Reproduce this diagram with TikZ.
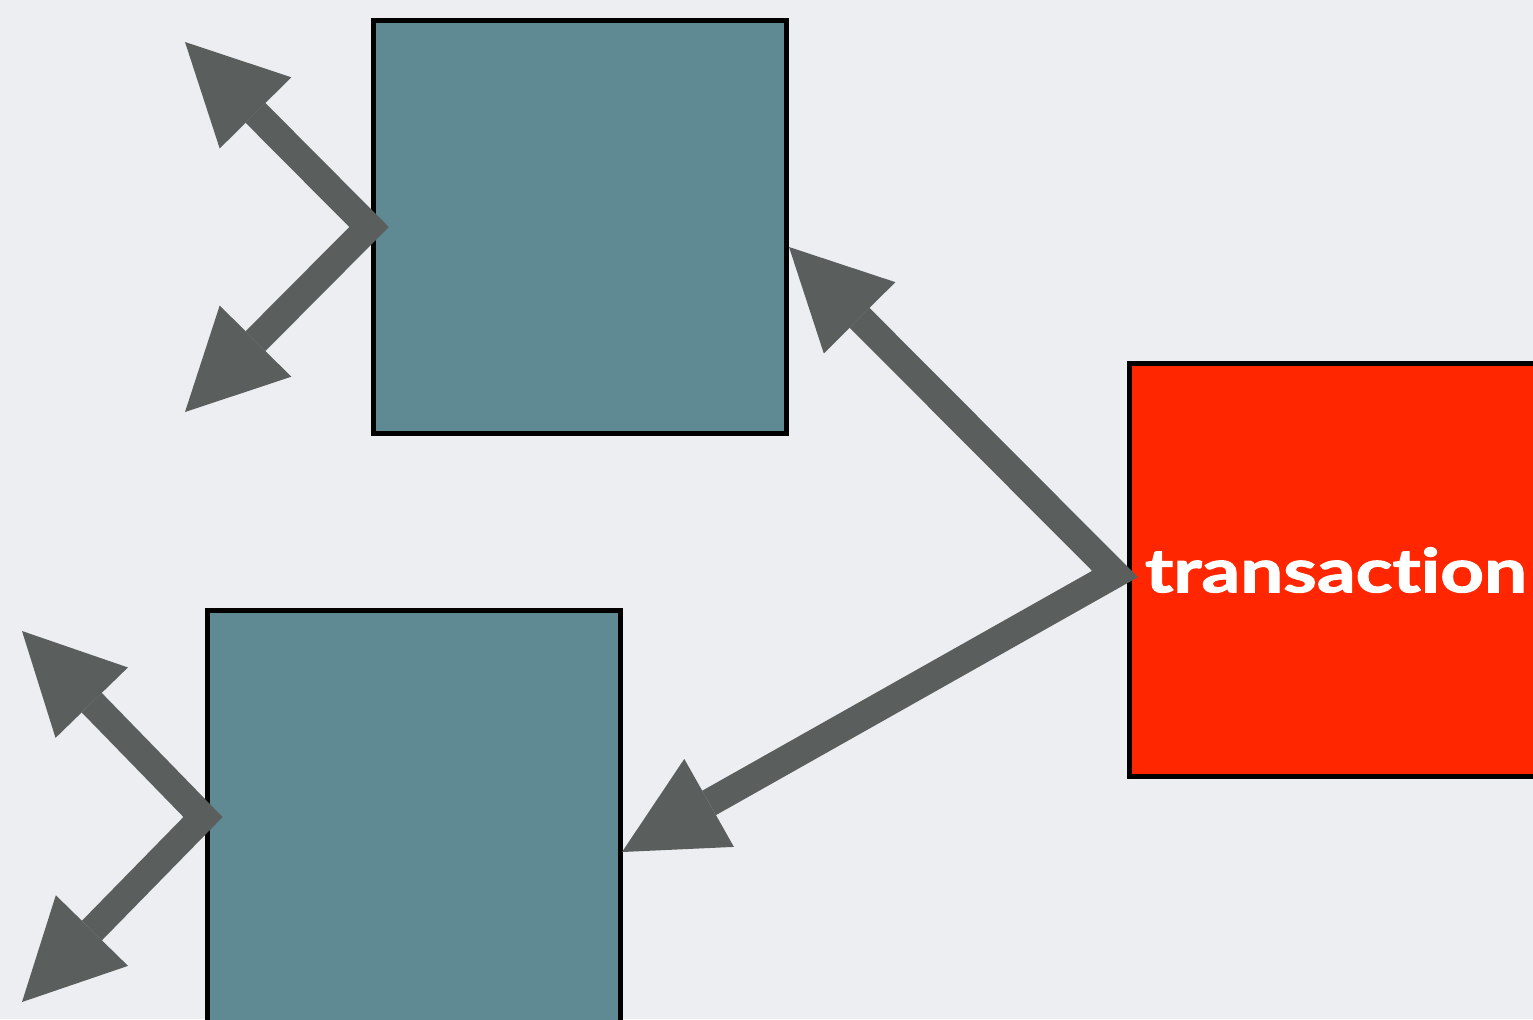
\documentclass[tikz,border=0pt]{standalone}
\usepackage{fontspec}
\newfontfamily\labelfont[Ligatures=NoCommon,BoldFeatures={FakeBold=1.6}]{Lato}
\usetikzlibrary{arrows.meta}
\definecolor{bgcol}{HTML}{ECEEF1}
\definecolor{tealbox}{HTML}{608A93}
\definecolor{redbox}{HTML}{FF2600}
\definecolor{arrgray}{HTML}{5A5E5C}
\tikzset{
  blockbox/.style={draw=black, line width=0.1cm, minimum width=8.26cm, minimum height=8.26cm, inner sep=0pt, outer sep=0pt},
  fatarrow/.style={draw=arrgray, line width=0.56cm, line join=miter, miter limit=10},
  headtip/.tip={Triangle[length=2cm,width=2.02cm,line width=0pt]}
}
\begin{document}
\begin{tikzpicture}[x=0.02cm,y=-0.02cm]
\useasboundingbox (0,0) rectangle (1533,1019);
\clip (0,0) rectangle (1533,1019);
\fill[bgcol] (0,0) rectangle (1533,1019);
% boxes
\node[blockbox, fill=tealbox] (top) at (580,227) {};
\node[blockbox, fill=tealbox] (bottom) at (414,817) {};
\node[blockbox, fill=redbox] (tx) at (1336,570) {\raisebox{-0.1cm}{\resizebox{7.64cm}{0.9cm}{\labelfont\bfseries\color{white}transaction}}};
% coordinates
\coordinate (jtop) at (369,227);
\coordinate (jbot) at (203,817);
\coordinate (jtx) at (1115,574);
\coordinate (ttopA) at (185,42);
\coordinate (ttopB) at (185,412);
\coordinate (tbotA) at (22,631);
\coordinate (tbotB) at (22,1002);
\coordinate (tin1) at (789,247);
\coordinate (tin2) at (622,852);
% arrows
\draw[fatarrow, headtip-headtip] (ttopA) -- (jtop) -- (ttopB);
\draw[fatarrow, headtip-headtip] (tbotA) -- (jbot) -- (tbotB);
\draw[fatarrow, headtip-headtip] (tin1) -- (jtx) -- (tin2);
\end{tikzpicture}
\end{document}
